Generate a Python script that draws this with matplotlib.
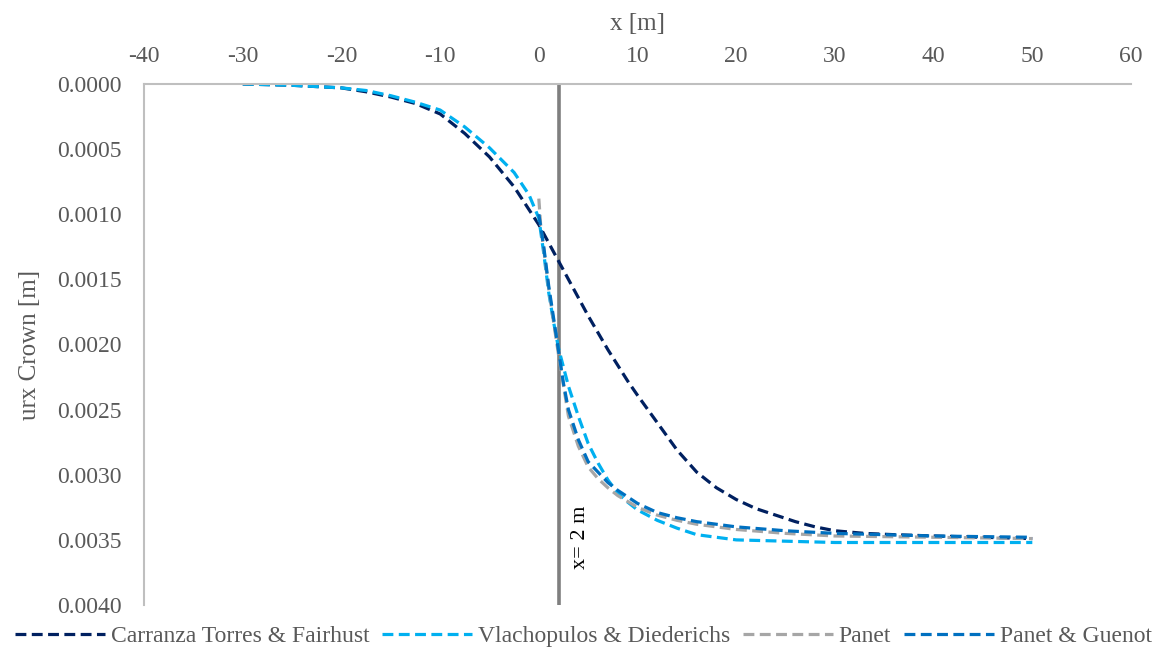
import matplotlib
matplotlib.use("Agg")
import matplotlib.pyplot as plt
from matplotlib.ticker import FuncFormatter, MultipleLocator

plt.rcParams['font.family'] = ['Liberation Serif', 'DejaVu Serif']
plt.rcParams['axes.unicode_minus'] = False

# Data
ct_x = [-30, -25, -20, -17.5, -15, -12.5, -10, -7.5, -5, -2.5, 0, 1, 2, 3, 4, 5, 6, 7, 8, 9, 10,
        12, 14, 16, 18, 20, 22, 24, 26, 28, 30, 33, 36, 40, 45, 50]
ct_y = [0.0, 0.00001, 0.00003, 0.00006, 0.00010, 0.00015, 0.00023, 0.00038, 0.00056, 0.00079, 0.00108,
        0.00122, 0.00136, 0.00150, 0.00164, 0.00178, 0.00191, 0.00204, 0.00216, 0.00228, 0.00239,
        0.00260, 0.00281, 0.00298, 0.00310, 0.00319, 0.00326, 0.00331, 0.00336, 0.00340, 0.00343,
        0.00345, 0.00346, 0.00347, 0.00348, 0.00349]

vd_x = [-30, -25, -20, -17.5, -15, -12.5, -10, -7.5, -5, -2.5, -1, 0, 0.5, 1, 1.5, 2, 3, 4, 5, 6, 7, 8,
        9, 10, 12, 14, 16, 18, 20, 25, 30, 40, 50]
vd_y = [0.0, 0.00001, 0.00003, 0.00005, 0.00009, 0.00014, 0.00020, 0.00033, 0.00049, 0.00068, 0.00085,
        0.00103, 0.00130, 0.00160, 0.00183, 0.00203, 0.00232, 0.00255, 0.00276, 0.00291, 0.00304,
        0.00314, 0.00321, 0.00327, 0.00335, 0.00341, 0.00346, 0.00348, 0.00350, 0.00351, 0.00352,
        0.00352, 0.00352]

pa_x = [0, 0.2, 0.5, 1, 1.5, 2, 3, 4, 5, 6, 7, 8, 10, 12, 14, 16, 18, 20, 25, 30, 40, 50]
pa_y = [0.00088, 0.00110, 0.00127, 0.00157, 0.00183, 0.00208, 0.00255, 0.00278, 0.00294, 0.00303,
        0.00310, 0.00316, 0.00325, 0.00331, 0.00335, 0.00338, 0.00340, 0.00342, 0.00345, 0.00347,
        0.00348, 0.00349]

pg_x = [0, 0.5, 1, 1.5, 2, 2.5, 3, 4, 5, 6, 7, 8, 10, 12, 14, 16, 18, 20, 25, 30, 40, 50]
pg_y = [0.00100, 0.00125, 0.00155, 0.00180, 0.00205, 0.00230, 0.00250, 0.00273, 0.00290, 0.00298,
        0.00306, 0.00312, 0.00322, 0.00329, 0.00333, 0.00336, 0.00338, 0.00340, 0.00343, 0.00345,
        0.00347, 0.00348]

series = [
    ("Carranza Torres & Fairhust", ct_x, ct_y, "#002060"),
    ("Vlachopulos & Diederichs", vd_x, vd_y, "#00B0F0"),
    ("Panet", pa_x, pa_y, "#A6A6A6"),
    ("Panet & Guenot", pg_x, pg_y, "#0070C0"),
]

fig = plt.figure(figsize=(11.73, 6.5), dpi=100)
ax = fig.add_axes([0.1228, 0.0692, 0.8414, 0.8016])

for name, xs, ys, c in series:
    ax.plot(xs, ys, color=c, lw=2.3, dashes=(3.4, 1.7), label=name, solid_capstyle='butt')

ax.axvline(2, color="#7F7F7F", lw=2.6, zorder=1)
ax.text(4.2, 0.003477, "x= 2 m", rotation=90, ha='center', va='center', fontsize=16, color='black')

ax.set_xlim(-40, 60)
ax.set_ylim(0.004, 0.0)
ax.xaxis.set_major_locator(MultipleLocator(10))
ax.yaxis.set_major_locator(MultipleLocator(0.0005))
ax.yaxis.set_major_formatter(FuncFormatter(lambda v, p: f"{v:.4f}"))
ax.xaxis.tick_top()
ax.xaxis.set_label_position('top')
ax.tick_params(axis='both', length=0, labelsize=17, labelcolor="#595959")
ax.tick_params(axis='x', pad=12)
ax.tick_params(axis='y', pad=16)

for s in ['right', 'bottom']:
    ax.spines[s].set_visible(False)
for s in ['left', 'top']:
    ax.spines[s].set_color("#BFBFBF")
    ax.spines[s].set_linewidth(1.5)

ax.set_xlabel("x [m]", fontsize=18, color="#595959", labelpad=12)
ax.set_ylabel("urx Crown [m]", fontsize=18, color="#595959", labelpad=12)

leg = ax.legend(loc='center', bbox_to_anchor=(0.445, -0.06), ncol=4, frameon=False,
                fontsize=17, handlelength=3.8, columnspacing=0.55, handletextpad=0.25,
                labelcolor="#595959")

fig.savefig("out.png", dpi=100)
